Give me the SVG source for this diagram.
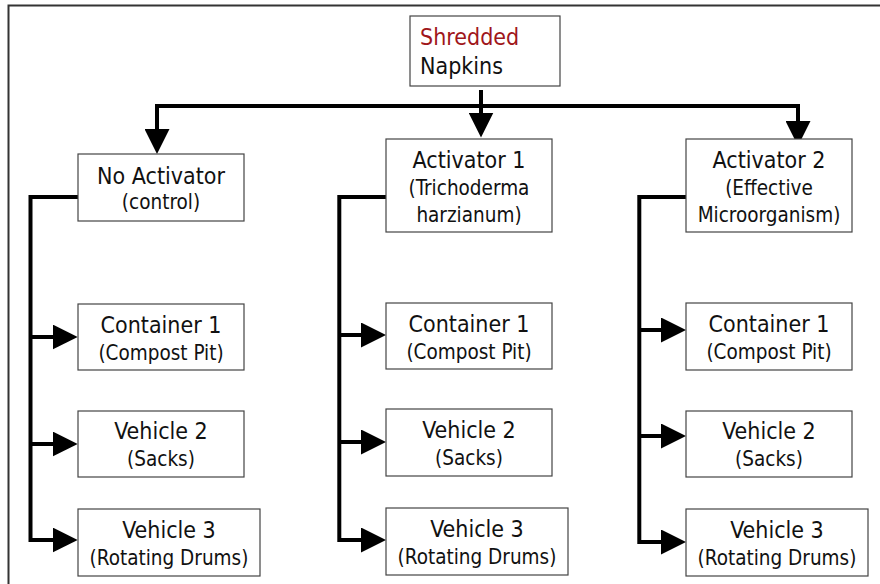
<svg xmlns="http://www.w3.org/2000/svg" width="880" height="584" viewBox="0 0 880 584">
<style>
.box{fill:#fff;stroke:#444;stroke-width:1.2}
.t{font-family:"DejaVu Sans",sans-serif;font-stretch:condensed;font-size:23px;fill:#111;text-anchor:middle}
.s{font-family:"DejaVu Sans",sans-serif;font-stretch:condensed;font-size:20.5px;fill:#111;text-anchor:middle}
.c{fill:none;stroke:#000;stroke-width:4}
</style>
<defs>
<marker id="ah" viewBox="0 0 25 25" refX="1" refY="12.5" markerWidth="25" markerHeight="25" markerUnits="userSpaceOnUse" orient="auto">
<path d="M0,0 L25,12.5 L0,25 Z" fill="#000"/>
</marker>
</defs>
<rect width="880" height="584" fill="#fff"/>
<path d="M880,5.5 H8.5 V584" fill="none" stroke="#333" stroke-width="2"/>

<g id="connectors">
<path class="c" d="M157,106 H798" stroke-linecap="square"/>
<path class="c" d="M157,106 V130" marker-end="url(#ah)"/>
<path class="c" d="M481,90 V113.5" marker-end="url(#ah)"/>
<path class="c" d="M798,106 V122" marker-end="url(#ah)"/>

<path class="c" d="M78,197 H30.5 V540 H53.7" marker-end="url(#ah)"/>
<path class="c" d="M30.5,337 H53.7" marker-end="url(#ah)"/>
<path class="c" d="M30.5,444 H53.7" marker-end="url(#ah)"/>

<path class="c" d="M386,197 H339.3 V540 H362" marker-end="url(#ah)"/>
<path class="c" d="M339.3,335 H362" marker-end="url(#ah)"/>
<path class="c" d="M339.3,442 H362" marker-end="url(#ah)"/>

<path class="c" d="M686,197 H639.3 V542 H662" marker-end="url(#ah)"/>
<path class="c" d="M639.3,330 H662" marker-end="url(#ah)"/>
<path class="c" d="M639.3,436 H662" marker-end="url(#ah)"/>
</g>

<g id="shredded">
<rect class="box" x="410" y="16" width="150" height="70"/>
<text class="t" x="420" y="45" style="text-anchor:start;fill:#a0161b">Shredded</text>
<text class="t" x="420" y="74" style="text-anchor:start">Napkins</text>
</g>

<g id="no-activator">
<rect class="box" x="78" y="154" width="166" height="67"/>
<text class="t" x="161" y="184">No Activator</text>
<text class="s" x="161" y="209">(control)</text>
</g>
<g id="activator1">
<rect class="box" x="386" y="139" width="166" height="93"/>
<text class="t" x="469" y="168">Activator 1</text>
<text class="s" x="469" y="195">(Trichoderma</text>
<text class="s" x="469" y="222">harzianum)</text>
</g>
<g id="activator2">
<rect class="box" x="686" y="139" width="166" height="93"/>
<text class="t" x="769" y="168">Activator 2</text>
<text class="s" x="769" y="195">(Effective</text>
<text class="s" x="769" y="222">Microorganism)</text>
</g>

<g id="c1-container1">
<rect class="box" x="78" y="304" width="166" height="66"/>
<text class="t" x="161" y="333">Container 1</text>
<text class="s" x="161" y="360">(Compost Pit)</text>
</g>
<g id="c1-vehicle2">
<rect class="box" x="78" y="411" width="166" height="66"/>
<text class="t" x="161" y="439">Vehicle 2</text>
<text class="s" x="161" y="466">(Sacks)</text>
</g>
<g id="c1-vehicle3">
<rect class="box" x="78" y="509" width="182" height="67"/>
<text class="t" x="169" y="538">Vehicle 3</text>
<text class="s" x="169" y="565">(Rotating Drums)</text>
</g>

<g id="c2-container1">
<rect class="box" x="386" y="303" width="166" height="66"/>
<text class="t" x="469" y="332">Container 1</text>
<text class="s" x="469" y="359">(Compost Pit)</text>
</g>
<g id="c2-vehicle2">
<rect class="box" x="386" y="409" width="166" height="67"/>
<text class="t" x="469" y="438">Vehicle 2</text>
<text class="s" x="469" y="465">(Sacks)</text>
</g>
<g id="c2-vehicle3">
<rect class="box" x="386" y="508" width="182" height="67"/>
<text class="t" x="477" y="537">Vehicle 3</text>
<text class="s" x="477" y="564">(Rotating Drums)</text>
</g>

<g id="c3-container1">
<rect class="box" x="686" y="303" width="166" height="67"/>
<text class="t" x="769" y="332">Container 1</text>
<text class="s" x="769" y="359">(Compost Pit)</text>
</g>
<g id="c3-vehicle2">
<rect class="box" x="686" y="411" width="166" height="66"/>
<text class="t" x="769" y="439">Vehicle 2</text>
<text class="s" x="769" y="466">(Sacks)</text>
</g>
<g id="c3-vehicle3">
<rect class="box" x="686" y="509" width="182" height="67"/>
<text class="t" x="777" y="538">Vehicle 3</text>
<text class="s" x="777" y="565">(Rotating Drums)</text>
</g>
</svg>
